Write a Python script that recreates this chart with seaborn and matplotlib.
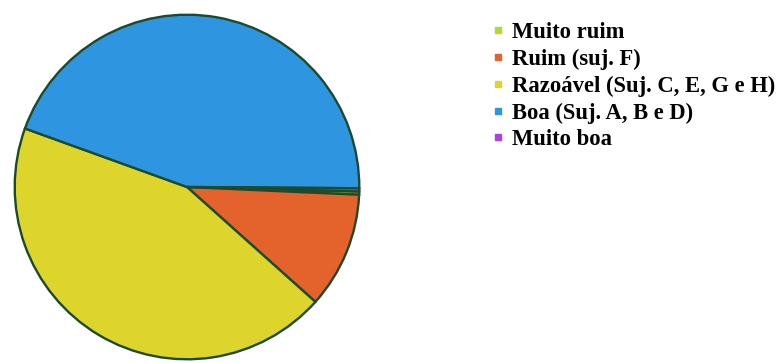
import matplotlib
matplotlib.use("Agg")
import matplotlib.pyplot as plt
from matplotlib.lines import Line2D
import seaborn as sns

labels = ["Muito ruim", "Ruim (suj. F)", "Razoável (Suj. C, E, G e H)",
          "Boa (Suj. A, B e D)", "Muito boa"]
values = [0.3, 10.9, 43.9, 44.6, 0.3]
colors = ["#B2DC2A", "#E4622B", "#DDD52B", "#2E95E0", "#B03FE3"]

sns.set_style("white")
plt.rcParams['font.family'] = ['Liberation Serif', 'DejaVu Serif']
plt.rcParams['text.color'] = 'black'

W, H = 779, 363
fig = plt.figure(figsize=(W / 100, H / 100), dpi=100)
cx, cy, r = 187, 187, 174
ax = fig.add_axes([(cx - r) / W, (H - cy - r) / H, 2 * r / W, 2 * r / H])
ax.pie(values, colors=sns.color_palette(colors), startangle=-1.5, counterclock=False,
       radius=1.0,
       wedgeprops=dict(edgecolor="#1C4A2C", linewidth=1.7))
ax.set_xlim(-1.01, 1.01)
ax.set_ylim(-1.01, 1.01)
ax.set_aspect("equal")
ax.axis("off")

handles = [Line2D([0], [0], marker="s", linestyle="none", markersize=5,
                  markerfacecolor=c, markeredgecolor=c) for c in colors]
leg = fig.legend(handles, labels, loc="upper left",
                 bbox_to_anchor=(491 / W, 1 - 22 / H), frameon=False,
                 prop=dict(family="Liberation Serif", weight="bold", size=16.3),
                 handlelength=0.6, handletextpad=0.33, labelspacing=0.25,
                 borderpad=0, borderaxespad=0, labelcolor="black")

fig.savefig("out.png", dpi=100)
